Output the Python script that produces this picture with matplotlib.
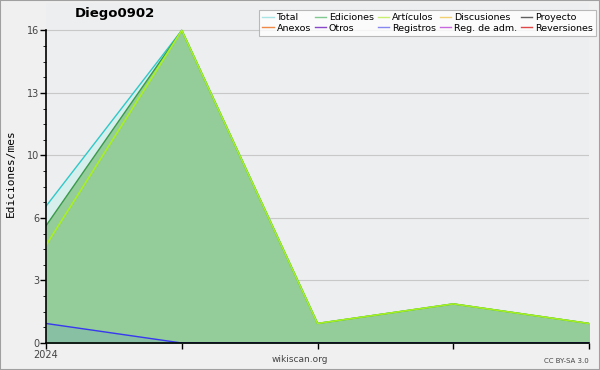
import matplotlib
matplotlib.use("Agg")
import matplotlib.pyplot as plt
import numpy as np

# datos mensuales
meses = [0, 1, 2, 3, 4]
total = [7, 16, 1, 2, 1]
ediciones = [6, 16, 1, 2, 1]
articulos = [5, 16, 1, 2, 1]
registros = [1, 0, 0, 0, 0]

leyenda = ["Total", "Ediciones", "Artículos", "Discusiones", "Proyecto",
           "Anexos", "Otros", "Registros", "Reg. de adm.", "Reversiones"]
colores = ["#a8e4e4", "#80c890", "#c8f070", "#f0d070", "#606060",
           "#f08848", "#8848c8", "#8888f0", "#c868e0", "#e04848"]

fig = plt.figure(figsize=(6, 3.7), dpi=100, facecolor="#f0f0f0")
ax = fig.add_axes([46 / 600, 27 / 370, 543 / 600, 340 / 370])
ax.set_facecolor("#edeef0")

# relleno y lineas
ax.fill_between(meses, 0, total, color="#d6efec", zorder=1)
ax.plot(meses, total, color="#30c8c8", lw=1, zorder=3)
ax.fill_between(meses, 0, ediciones, color="#94cc9a", zorder=2)
ax.plot(meses, ediciones, color="#3a9a4a", lw=1, zorder=3)
ax.plot(meses, articulos, color="#a8f020", lw=1.2, zorder=4)
ax.fill_between(meses, 0, registros, color="#88c0a4", zorder=2.5)
ax.plot(meses, registros, color="#3838f0", lw=1, zorder=4)

ax.set_xlim(0, 4)
ax.set_ylim(0, 17.4)
yt = [0, 3.2, 6.4, 9.6, 12.8, 16]
ax.set_yticks(yt)
ax.set_yticklabels(["0", "3", "6", "10", "13", "16"])
ax.set_yticks(np.arange(0, 16.01, 0.8), minor=True)
ax.set_xticks(meses)
ax.set_xticklabels(["2024", "", "", "", ""])
ax.tick_params(axis="both", labelsize=7, colors="#000000", labelcolor="#444444",
               length=4, width=1, pad=1)
ax.tick_params(axis="y", which="minor", length=2)
ax.grid(axis="y", color="#c8c8c8", lw=0.8, zorder=0)
ax.set_axisbelow(True)
for s in ["top", "right"]:
    ax.spines[s].set_visible(False)
for s in ["left", "bottom"]:
    ax.spines[s].set_linewidth(1.2)
    ax.spines[s].set_zorder(5)
ax.spines["left"].set_bounds(0, 16)

ax.set_ylabel("Ediciones/mes", family="DejaVu Sans Mono", fontsize=8, labelpad=8)

fig.text(115 / 600, 1 - 13 / 370, "Diego0902", ha="center", va="center",
         fontsize=9.5, fontweight="bold")
fig.text(300 / 600, 1 - 360 / 370, "wikiscan.org", ha="center", va="center",
         fontsize=6.5, color="#444444")
fig.text(589 / 600, 1 - 361 / 370, "CC BY-SA 3.0", ha="right", va="center",
         fontsize=5, color="#444444")

handles = [plt.Line2D([], [], color=c, lw=1) for c in colores]
orden = [0, 5, 1, 6, 2, 7, 3, 8, 4, 9]
leg = fig.legend([handles[i] for i in orden], [leyenda[i] for i in orden],
                 ncol=5, loc="upper right", bbox_to_anchor=(596 / 600, 1 - 10 / 370),
                 fontsize=6.8, frameon=True, fancybox=False, handlelength=1.2,
                 handletextpad=0.3, columnspacing=0.4, labelspacing=0.15,
                 borderpad=0.35, borderaxespad=0)
leg.get_frame().set_edgecolor("#aaaaaa")
leg.get_frame().set_facecolor("#ffffff")
leg.get_frame().set_linewidth(0.8)

fig.patches.append(plt.Rectangle((0, 0), 1, 1, transform=fig.transFigure,
                                 fill=False, edgecolor="#a0a0a0", lw=1.5))

fig.savefig("out.png", dpi=100, facecolor=fig.get_facecolor())
